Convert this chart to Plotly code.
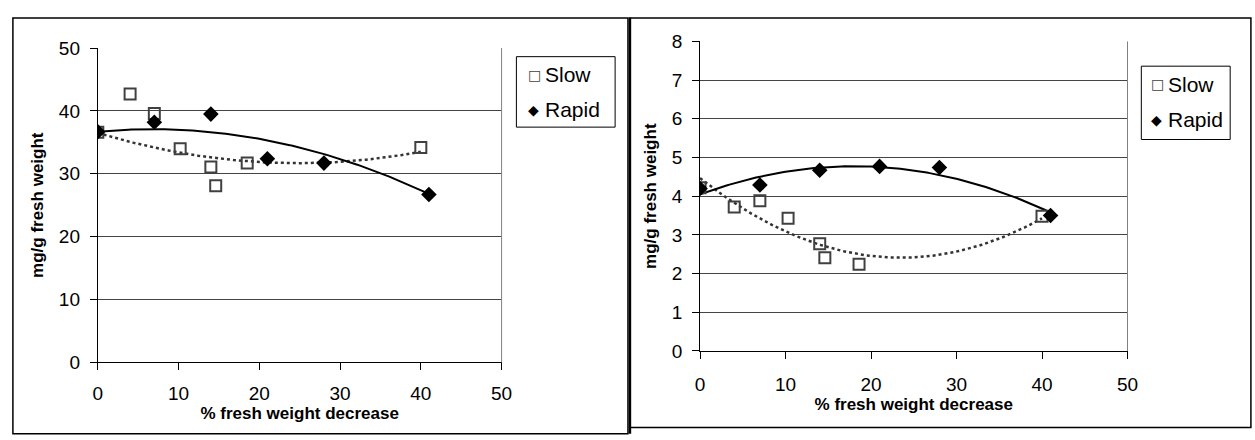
import numpy as np
import plotly.graph_objects as go

# ---- data ----
left_slow_x = [0, 4, 7, 10.2, 14, 14.6, 18.5, 40]
left_slow_y = [36.6, 42.7, 39.6, 34.0, 31.1, 28.1, 31.7, 34.2]
left_rapid_x = [0, 7, 14, 21, 28, 41]
left_rapid_y = [36.7, 38.2, 39.5, 32.4, 31.7, 26.7]

right_slow_x = [0, 4, 7, 10.3, 14, 14.6, 18.6, 40]
right_slow_y = [4.22, 3.72, 3.88, 3.43, 2.77, 2.41, 2.24, 3.48]
right_rapid_x = [0, 7, 14, 21, 28, 41]
right_rapid_y = [4.20, 4.29, 4.67, 4.77, 4.74, 3.50]

# quadratic trendline coefficients (highest power first)
left_slow_trend = [0.007825, -0.388, 36.5]
left_rapid_trend = [-0.00878, 0.1186, 36.7]

x_ticks = [0, 10, 20, 30, 40, 50]
left_y_ticks = [0, 10, 20, 30, 40, 50]
right_y_ticks = [0, 1, 2, 3, 4, 5, 6, 7, 8]

series_names = ["Slow", "Rapid"]
series_symbols = ["□", "◆"]

W, H = 1255, 440
FONT = "Liberation Sans, Arial, sans-serif"

fig = go.Figure()


def curve(xs, coef, n=120):
    xx = np.linspace(min(xs), max(xs), n)
    return xx, np.polyval(coef, xx)


def add_panel(sx, sy, rx, ry, xa, ya, slow_coef, rapid_coef):
    xx, yy = curve(sx, slow_coef)
    fig.add_trace(go.Scatter(x=xx, y=yy, mode="lines", xaxis=xa, yaxis=ya,
                             line=dict(color="#333333", width=2.5, dash="dot"),
                             showlegend=False, hoverinfo="skip"))
    xx, yy = curve(rx, rapid_coef)
    fig.add_trace(go.Scatter(x=xx, y=yy, mode="lines", xaxis=xa, yaxis=ya,
                             line=dict(color="black", width=2),
                             showlegend=False, hoverinfo="skip"))
    fig.add_trace(go.Scatter(x=sx, y=sy, mode="markers", name=series_names[0], xaxis=xa, yaxis=ya,
                             marker=dict(symbol="square-open", size=11, color="#404040",
                                         line=dict(width=2, color="#404040")),
                             showlegend=False))
    fig.add_trace(go.Scatter(x=rx, y=ry, mode="markers", name=series_names[1], xaxis=xa, yaxis=ya,
                             marker=dict(symbol="diamond", size=12, color="black"),
                             showlegend=False))


add_panel(left_slow_x, left_slow_y, left_rapid_x, left_rapid_y, "x", "y",
          left_slow_trend, left_rapid_trend)
add_panel(right_slow_x, right_slow_y, right_rapid_x, right_rapid_y, "x2", "y2",
          np.polyfit(right_slow_x, right_slow_y, 2), np.polyfit(right_rapid_x, right_rapid_y, 2))


def px(v):
    return v / W


def py(v):
    return 1 - v / H


axis_common = dict(showline=True, linecolor="black", linewidth=1, ticks="outside",
                   ticklen=7, tickcolor="black", tickfont=dict(family=FONT, size=19, color="black"),
                   zeroline=False, mirror=False)
title_font = dict(family=FONT, size=17, color="black")

fig.update_layout(
    width=W, height=H, margin=dict(l=0, r=0, t=0, b=0),
    paper_bgcolor="white", plot_bgcolor="white", showlegend=False,
    xaxis=dict(domain=[px(94), px(503)], range=[0, 50], tickvals=x_ticks, showgrid=False,
               anchor="y", ticklabelstandoff=7,
               title=dict(text="<b>% fresh weight decrease</b>", font=title_font, standoff=1),
               **axis_common),
    yaxis=dict(domain=[py(370), py(40)], range=[0, 50], tickvals=left_y_ticks, showgrid=True,
               gridcolor="#444444", gridwidth=1, anchor="x", ticklabelstandoff=6,
               title=dict(text="<b>mg/g fresh weight</b>", font=title_font, standoff=10),
               **axis_common),
    xaxis2=dict(domain=[px(704), px(1137)], range=[0, 50], tickvals=x_ticks, showgrid=False,
                anchor="y2", ticklabelstandoff=9,
                title=dict(text="<b>% fresh weight decrease</b>", font=title_font, standoff=1),
                **axis_common),
    yaxis2=dict(domain=[py(358), py(33)], range=[0, 8], tickvals=right_y_ticks, showgrid=True,
                gridcolor="#444444", gridwidth=1, anchor="x2", ticklabelstandoff=6,
                title=dict(text="<b>mg/g fresh weight</b>", font=title_font, standoff=10),
                **axis_common),
)

shapes = []
# chart borders
shapes.append(dict(type="rect", xref="paper", yref="paper", x0=px(8), x1=px(631),
                   y0=py(445), y1=py(8.5), line=dict(color="black", width=1.5)))
shapes.append(dict(type="rect", xref="paper", yref="paper", x0=px(633), x1=px(1262),
                   y0=py(438.5), y1=py(8.5), line=dict(color="black", width=1.5)))
shapes.append(dict(type="line", xref="paper", yref="paper", x0=px(633), x1=px(633),
                   y0=py(445), y1=py(8), line=dict(color="black", width=2.5)))
# plot area right edges
shapes.append(dict(type="line", xref="paper", yref="paper", x0=px(503), x1=px(503),
                   y0=py(370), y1=py(40), line=dict(color="#808080", width=1)))
shapes.append(dict(type="line", xref="paper", yref="paper", x0=px(1137), x1=px(1137),
                   y0=py(358), y1=py(33), line=dict(color="#808080", width=1)))
# legend boxes
for (x0, x1, y0, y1) in [(518, 618, 49, 123), (1151, 1241, 59, 136)]:
    shapes.append(dict(type="rect", xref="paper", yref="paper", x0=px(x0), x1=px(x1),
                       y0=py(y1), y1=py(y0), line=dict(color="black", width=1),
                       fillcolor="white"))
fig.update_layout(shapes=shapes)

# legend entries (symbol + text)
annotations = []
for (sx, tx, ly0, gap) in [(528, 545, 68, 37), (1159, 1176, 78, 37)]:
    for i, (name, sym) in enumerate(zip(series_names, series_symbols)):
        yy = ly0 + i * gap
        annotations.append(dict(xref="paper", yref="paper", x=px(sx), y=py(yy), xanchor="left",
                                yanchor="middle", showarrow=False, text=sym,
                                font=dict(family="DejaVu Sans", size=14,
                                          color="#404040" if i == 0 else "black")))
        annotations.append(dict(xref="paper", yref="paper", x=px(tx), y=py(yy), xanchor="left",
                                yanchor="middle", showarrow=False, text=name,
                                font=dict(family=FONT, size=21, color="black")))
fig.update_layout(annotations=annotations)

css_fix = ("var s=document.documentElement.style;s.margin='0';s.padding='0';s.overflow='hidden';"
           "var b=document.body.style;b.margin='0';b.padding='0';b.overflow='hidden';")
fig.write_html("out.html", config={"displayModeBar": False}, post_script=css_fix)
